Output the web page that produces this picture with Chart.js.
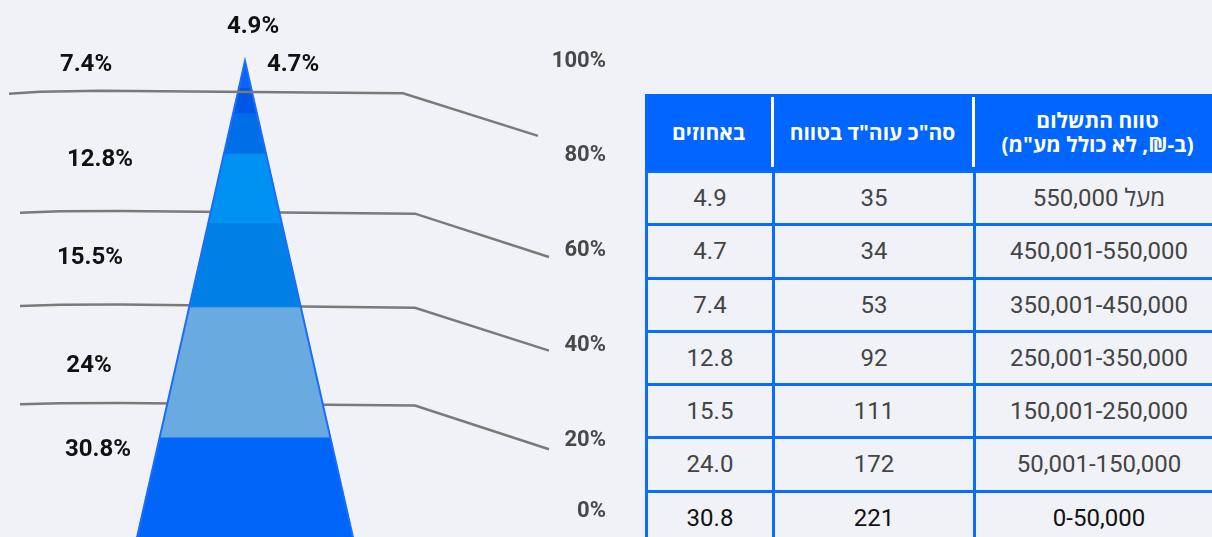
<!DOCTYPE html>
<html lang="he">
<head>
<meta charset="utf-8">
<script src="https://cdn.jsdelivr.net/npm/chart.js"></script>
<style>
  html, body { margin: 0; padding: 0; }
  body { width: 1212px; height: 537px; overflow: hidden; position: relative; background: #f1f2f7; font-family: Roboto, "Open Sans", sans-serif; }
  #chartBox { position: absolute; left: 0; top: 0; width: 620px; height: 537px; }
  #tbl { position: absolute; left: 645px; top: 94px; width: 577px; direction: rtl; table-layout: fixed; border-collapse: separate; border-spacing: 0; }
  #tbl th { background: #0066ff; color: #fff; font-family: "Open Sans", Roboto, sans-serif; font-weight: 700; font-size: 21px; line-height: 24px; height: 76px; padding: 0; position: relative; }
  #tbl th + th::before { content: ''; position: absolute; right: -1.5px; top: 3px; bottom: 3px; width: 3px; background: #fff; }
  #tbl td { border-top: 3px solid #0a6cff; border-left: 3px solid #0a6cff; padding: 0; line-height: 50.3px; text-align: center; font-size: 24px; color: #444; }
  #tbl tr:last-child td { color: #111; }
</style>
</head>
<body>
<div id="chartBox"><canvas id="pyramid"></canvas></div>
<table id="tbl">
  <colgroup><col style="width:249px"><col style="width:201px"><col style="width:127px"></colgroup>
  <thead><tr id="headRow"></tr></thead>
  <tbody id="rows"></tbody>
</table>
<script>
// data, top of the pyramid first
const shares = [4.9, 4.7, 7.4, 12.8, 15.5, 24.0, 30.8];
const counts = [35, 34, 53, 92, 111, 172, 221];
const ranges = ['מעל 550,000', '450,001-550,000', '350,001-450,000', '250,001-350,000', '150,001-250,000', '50,001-150,000', '0-50,000'];
const headers = [['טווח התשלום', '(ב-₪, לא כולל מע"מ)'], ['סה"כ עוה"ד בטווח'], ['באחוזים']];
const tickLabels = ['0%', '20%', '40%', '60%', '80%', '100%'];

// grey guide lines, [x, y%]
const guide1 = [[-236, 93.1], [-205, 93.5], [-145, 93.7], [158, 93.2], [293, 84.2]];
const guide2 = [[-225, 68.0], [-185, 68.3], [-125, 68.35], [170, 67.8], [304, 58.65]];
const guide3 = [[-225, 48.3], [-185, 48.57], [-125, 48.63], [170, 47.95], [304, 38.9]];
const guide4 = [[-225, 27.57], [-185, 27.8], [-125, 27.85], [170, 27.3], [304, 18.1]];

// label spots [x, y%] for the share labels, same order as shares
const labelSpots = [[8, 107.2], [48, 99.2], [-159, 99.2], [-145, 79.1], [-155, 58.4], [-156, 35.6], [-147, 17.9]];

const segColors = ['#0a66fb', '#0057e6', '#006ee6', '#0092f2', '#0080e5', '#69aae0', '#0066fa'];
const K = 1.23;          // half width of the pyramid per % (x units)
const ZERO_LIFT = 4.9;   // keeps the 0% label inside the frame

// table
const headRow = document.getElementById('headRow');
headers.forEach(h => {
  const th = document.createElement('th');
  th.innerHTML = h.join('<br>');
  headRow.appendChild(th);
});
const body = document.getElementById('rows');
ranges.forEach((r, i) => {
  const tr = document.createElement('tr');
  [r, counts[i], shares[i].toFixed(1)].forEach(v => {
    const td = document.createElement('td');
    td.textContent = v;
    tr.appendChild(td);
  });
  body.appendChild(tr);
});

// pyramid slices
let cum = 0;
const sliceSets = shares.map((v, i) => {
  const c0 = cum, c1 = cum + v;
  cum = c1;
  return {
    data: [{x: -K * c0, y: c0}, {x: K * c0, y: c0}, {x: K * c1, y: c1}, {x: -K * c1, y: c1}, {x: -K * c0, y: c0}],
    yAxisID: 'y2', fill: 'shape', backgroundColor: segColors[i], borderColor: segColors[i],
    borderWidth: 1, clip: false, order: 2
  };
});

const outline = {
  data: [{x: -K * cum, y: cum}, {x: 0, y: 0}, {x: K * cum, y: cum}],
  yAxisID: 'y2', fill: false, borderColor: '#1a6dff', borderWidth: 2, clip: false, order: 1
};

const guide = (pts, order) => ({
  data: pts.map(p => ({x: p[0], y: p[1]})),
  yAxisID: 'y', fill: false, borderColor: '#7a7a7a', borderWidth: 2.5, clip: false, order: order
});

const shareLabels = {
  id: 'shareLabels',
  afterDatasetsDraw(chart) {
    const {ctx, scales: {x, y}} = chart;
    ctx.save();
    ctx.font = 'bold 24px Roboto';
    ctx.fillStyle = '#111';
    ctx.textAlign = 'center';
    ctx.textBaseline = 'middle';
    shares.forEach((v, i) => {
      ctx.fillText(v + '%', x.getPixelForValue(labelSpots[i][0]), y.getPixelForValue(labelSpots[i][1]));
    });
    ctx.restore();
  }
};

new Chart(document.getElementById('pyramid'), {
  type: 'line',
  data: {
    datasets: [guide(guide1, 0), outline, ...sliceSets, guide(guide2, 3), guide(guide3, 3), guide(guide4, 3)]
  },
  plugins: [shareLabels],
  options: {
    responsive: true,
    maintainAspectRatio: false,
    animation: false,
    layout: {padding: {top: 61, bottom: 0, left: 0, right: 14}},
    plugins: {legend: {display: false}, tooltip: {enabled: false}},
    elements: {point: {radius: 0}, line: {tension: 0}},
    scales: {
      x: {type: 'linear', display: false, min: -245, max: 304},
      y: {
        position: 'right', min: -0.42, max: 100,
        grid: {display: false, drawTicks: false},
        border: {display: false},
        afterBuildTicks: s => { s.ticks = tickLabels.map((_, i) => ({value: i === 0 ? ZERO_LIFT : i * 20})); },
        afterFit: s => { s.width = 57; s.paddingTop = 0; s.paddingBottom = 0; },
        ticks: {
          padding: 3, crossAlign: 'far', color: '#484848',
          font: {family: 'Roboto', size: 22, weight: 'bold'},
          callback: (v, i) => tickLabels[i]
        }
      },
      y2: {type: 'linear', display: false, reverse: true, min: 0, max: 87.72}
    }
  }
});
</script>
</body>
</html>
